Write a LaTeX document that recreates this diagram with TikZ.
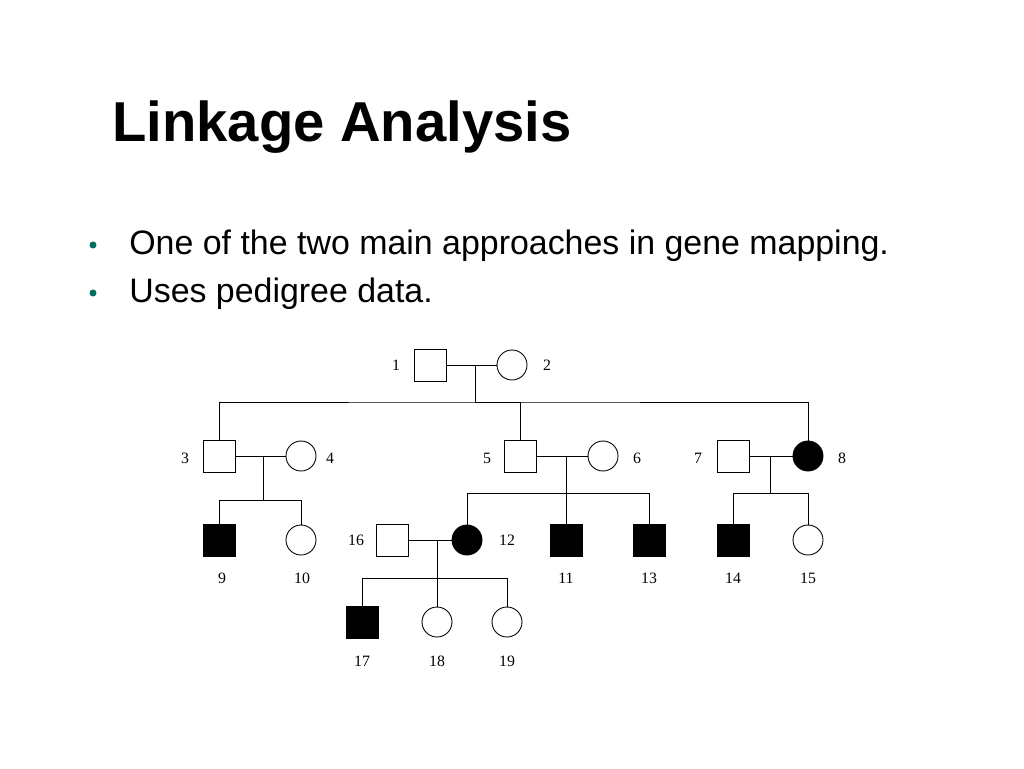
\documentclass[tikz,border=0pt]{standalone}
\usepackage{fontspec}
\setmainfont{Liberation Sans}
\newfontfamily\lbl{Liberation Serif}
\definecolor{bul}{RGB}{0,110,95}
\begin{document}
\begin{tikzpicture}[x=0.02cm,y=-0.02cm,
 sq/.style={draw,line width=0.5pt,minimum size=0.64cm,inner sep=0pt},
 ci/.style={draw,circle,line width=0.5pt,minimum size=0.6cm,inner sep=0pt},
 aff/.style={fill=black},
 lab/.style={font=\lbl\fontsize{9}{10}\selectfont,inner sep=0pt},
 ln/.style={line width=0.5pt}]
\useasboundingbox (0,0) rectangle (1024,768);
\node[anchor=west,font=\bfseries\fontsize{32}{36}\selectfont,inner sep=0pt] (title) at (112,127) {Linkage Analysis};
\node[anchor=west,font=\fontsize{19.3}{22}\selectfont,inner sep=0pt] (b1) at (129,246) {One of the two main approaches in gene mapping.};
\node[anchor=west,font=\fontsize{19.3}{22}\selectfont,inner sep=0pt] (b2) at (129,294) {Uses pedigree data.};
\node[circle,fill=bul,minimum size=0.14cm,inner sep=0pt] (d1) at (93,245) {};
\node[circle,fill=bul,minimum size=0.14cm,inner sep=0pt] (d2) at (93,293) {};
% individuals
\node[sq] (n1) at (430,365) {}; \node[ci] (n2) at (512,365) {};
\node[sq] (n3) at (219,456) {}; \node[ci] (n4) at (301,456) {};
\node[sq] (n5) at (520,456) {}; \node[ci] (n6) at (603,456) {};
\node[sq] (n7) at (733,456) {}; \node[ci,aff] (n8) at (808,456) {};
\node[sq,aff] (n9) at (219,540) {}; \node[ci] (n10) at (301,540) {};
\node[sq] (n16) at (392,540) {}; \node[ci,aff] (n12) at (467,540) {};
\node[sq,aff] (n11) at (566,540) {}; \node[sq,aff] (n13) at (649,540) {};
\node[sq,aff] (n14) at (733,540) {}; \node[ci] (n15) at (808,540) {};
\node[sq,aff] (n17) at (362,622) {}; \node[ci] (n18) at (437,622) {}; \node[ci] (n19) at (507,622) {};
% labels
\foreach \t/\x/\y in {1/396/365,2/547/365,3/185/458,4/330/458,5/487/458,6/637/458,7/698/458,8/842/458,9/222/578,10/302/578,16/356/540,12/507/540,11/566/578,13/649/578,14/733/578,15/808/578,17/362/661,18/437/661,19/507/661}
  \node[lab] (l\t) at (\x,\y) {\t};
% marriages
\draw[ln] (n1) -- (n2); \draw[ln] (n3) -- (n4); \draw[ln] (n5) -- (n6);
\draw[ln] (n7) -- (n8); \draw[ln] (n16) -- (n12);
% descent
\coordinate (m1) at (475,365); \coordinate (s1) at (475,402);
\draw[ln] (m1) -- (s1);
\draw[ln] (n3) |- (s1) -| (n8); \draw[ln] (s1) -| (n5);
\coordinate (m3) at (263,456); \coordinate (s3) at (263,500);
\draw[ln] (m3) -- (s3); \draw[ln] (n9) |- (s3) -| (n10);
\coordinate (m5) at (566,456); \coordinate (s5) at (566,493);
\draw[ln] (m5) -- (n11); \draw[ln] (n12) |- (s5) -| (n13);
\coordinate (m7) at (770,456); \coordinate (s7) at (770,493);
\draw[ln] (m7) -- (s7); \draw[ln] (n14) |- (s7) -| (n15);
\coordinate (m12) at (437,540); \coordinate (s12) at (437,578);
\draw[ln] (m12) -- (n18); \draw[ln] (n17) |- (s12) -| (n19);
\end{tikzpicture}
\end{document}
